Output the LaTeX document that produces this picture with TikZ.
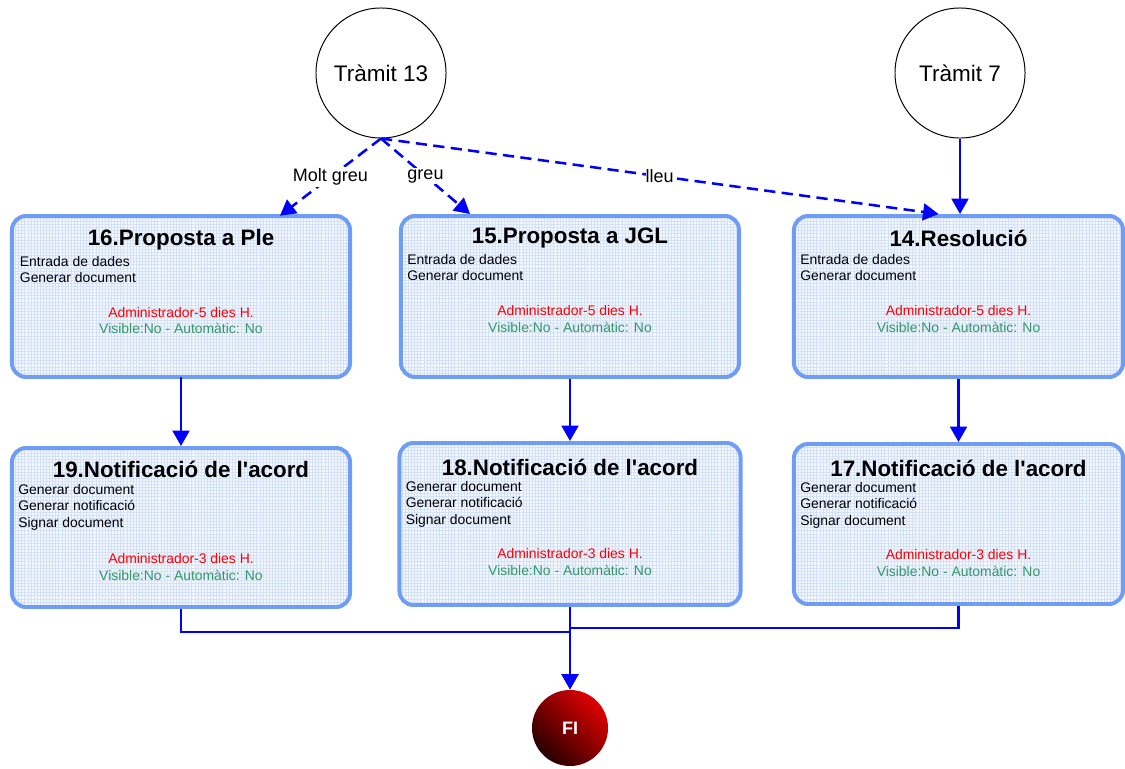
\documentclass[tikz,border=0pt]{standalone}
\usepackage{fontspec}
\setmainfont{Liberation Sans}[Ligatures=TeXOff]
\usetikzlibrary{arrows.meta,calc,patterns.meta}
\definecolor{vora}{HTML}{6F9CF4}
\definecolor{fons}{HTML}{F3F7FE}
\definecolor{quadricula}{HTML}{D3E0F9}
\definecolor{verd}{HTML}{339966}
\definecolor{vermell}{HTML}{FF0000}
\definecolor{fletxa}{HTML}{0000FF}
\tikzset{
	caixa/.style={draw=vora,line width=2.8pt,rounded corners=10pt,preaction={fill=fons},
		pattern={Hatch[angle=0,distance=2.2pt,line width=0.45pt]},pattern color=quadricula,
		minimum width=8.45cm,minimum height=4.025cm,inner sep=0pt},
	tramit/.style={draw,circle,line width=0.7pt,minimum size=3.25cm,inner sep=0pt,font=\fontsize{16}{19}\selectfont},
	fi/.style={circle,minimum size=1.9cm,inner sep=0pt,shading=axis,top color=red!88!black,middle color=red!75!black,
		bottom color=red!15!black,shading angle=-45,text=white,font=\fontsize{12.8}{15}\selectfont\bfseries},
	titol/.style={inner sep=0pt,font=\fontsize{15.9}{18}\selectfont\bfseries},
	feina/.style={anchor=north west,align=left,inner sep=0pt,font=\fontsize{9.9}{11.6}\selectfont},
	rol/.style={align=center,inner sep=0pt,font=\fontsize{9.9}{11.6}\selectfont},
	etiqueta/.style={fill=white,inner sep=1pt,font=\fontsize{12.8}{15}\selectfont},
	enllac/.style={draw=fletxa,line width=1.8pt},
	fletxa/.style={enllac,-{Triangle[length=11pt,width=12pt]}},
	opcio/.style={fletxa,dash pattern=on 8pt off 4.5pt}
}
\begin{document}
\begin{tikzpicture}[x=0.025cm,y=-0.025cm]
	\useasboundingbox (0,0) rectangle (1125,769);
	\node[tramit] (t13) at (381,73) {Tràmit 13};
	\node[tramit] (t7) at (960,73) {Tràmit 7};
	\node[caixa] (b16) at (181,296.5) {};
	\node[caixa] (b15) at (570,296.5) {};
	\node[caixa,minimum width=8.225cm] (b14) at (958.5,296.5) {};
	\node[caixa,minimum height=3.975cm] (b19) at (181,527.5) {};
	\node[caixa,minimum width=8.525cm,minimum height=4.05cm] (b18) at (570,524) {};
	\node[caixa,minimum width=8.225cm,minimum height=4cm] (b17) at (958.5,524) {};
	\node[fi] (fi) at (570,728) {FI};
	\node[titol] (n16) at ($(b16.north)+(0,24)$) {16.Proposta a Ple};
	\node[feina] (f16) at ($(b16.north west)+(8,40)$) {Entrada de dades\\Generar document};
	\node[rol] (r16) at ($(b16.north)+(0,105)$) {\color{vermell}Administrador-5 dies H.\\\color{verd}Visible:No - Automàtic: No};
	\node[titol] (n15) at ($(b15.north)+(0,24)$) {15.Proposta a JGL};
	\node[feina] (f15) at ($(b15.north west)+(8,40)$) {Entrada de dades\\Generar document};
	\node[rol] (r15) at ($(b15.north)+(0,105)$) {\color{vermell}Administrador-5 dies H.\\\color{verd}Visible:No - Automàtic: No};
	\node[titol] (n14) at ($(b14.north)+(0,24)$) {14.Resolució};
	\node[feina] (f14) at ($(b14.north west)+(8,40)$) {Entrada de dades\\Generar document};
	\node[rol] (r14) at ($(b14.north)+(0,105)$) {\color{vermell}Administrador-5 dies H.\\\color{verd}Visible:No - Automàtic: No};
	\node[titol] (n19) at ($(b19.north)+(0,23)$) {19.Notificació de l'acord};
	\node[feina] (f19) at ($(b19.north west)+(8,38)$) {Generar document\\Generar notificació\\Signar document};
	\node[rol] (r19) at ($(b19.north)+(0,121)$) {\color{vermell}Administrador-3 dies H.\\\color{verd}Visible:No - Automàtic: No};
	\node[titol] (n18) at ($(b18.north)+(0,26)$) {18.Notificació de l'acord};
	\node[feina] (f18) at ($(b18.north west)+(8,40)$) {Generar document\\Generar notificació\\Signar document};
	\node[rol] (r18) at ($(b18.north)+(0,121)$) {\color{vermell}Administrador-3 dies H.\\\color{verd}Visible:No - Automàtic: No};
	\node[titol] (n17) at ($(b17.north)+(0,26)$) {17.Notificació de l'acord};
	\node[feina] (f17) at ($(b17.north west)+(8,40)$) {Generar document\\Generar notificació\\Signar document};
	\node[rol] (r17) at ($(b17.north)+(0,121)$) {\color{vermell}Administrador-3 dies H.\\\color{verd}Visible:No - Automàtic: No};
	\coordinate (m19) at (0,632);
	\coordinate (m17) at (0,628);
	\draw[opcio] (t13.south) -- node[etiqueta,pos=0.5] {Molt greu} ($(b16.north)+(99,0)$);
	\draw[opcio] (t13.south) -- node[etiqueta,pos=0.5] {greu} ($(b15.north)+(-100,0)$);
	\draw[opcio] (t13.south) -- node[etiqueta,pos=0.5,inner sep=0pt] {lleu} ($(b14.north)+(-20,0)$);
	\draw[fletxa] (t7.south) -- (t7.south |- b14.north);
	\draw[fletxa] (b16.south) -- (b19.north);
	\draw[fletxa] (b15.south) -- (b18.north);
	\draw[fletxa] (b14.south) -- (b17.north);
	\draw[enllac] (b19.south) |- (b18.south |- m19);
	\draw[enllac] (b17.south) |- (b18.south |- m17);
	\draw[fletxa] (b18.south) -- (fi.north);
\end{tikzpicture}
\end{document}
